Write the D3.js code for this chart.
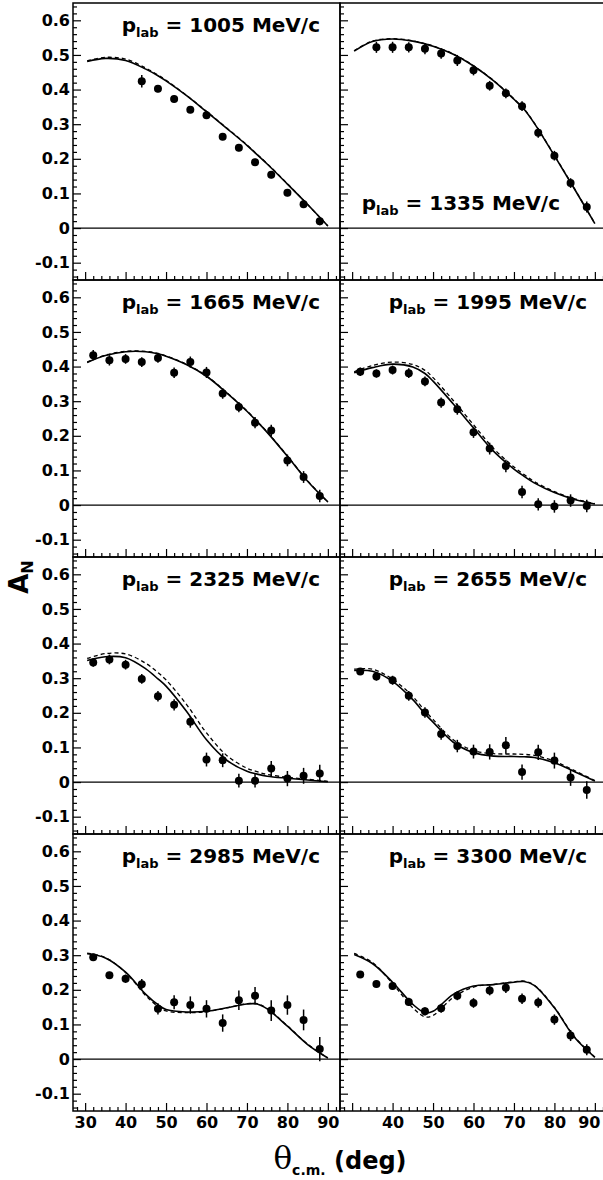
<!DOCTYPE html>
<html>
<head>
<meta charset="utf-8">
<script src="https://cdn.jsdelivr.net/npm/d3@7"></script>
<style>
  body { margin: 0; background: #fff; }
  svg { display: block; }
  text { white-space: pre; }
</style>
</head>
<body>
<div id="chart"></div>
<script>
// beam momenta, one panel each
const momenta = [1005, 1335, 1665, 1995, 2325, 2655, 2985, 3300];

// measured angles (deg, c.m.)
const angles = [32, 36, 40, 44, 48, 52, 56, 60, 64, 68, 72, 76, 80, 84, 88];
const fitAngles = [30.5, 35, 40, 45, 48, 50, 55, 60, 65, 70, 72.5, 75, 80, 85, 90];

const xTicks = [30, 40, 50, 60, 70, 80, 90];
const yTicks = [-0.1, 0, 0.1, 0.2, 0.3, 0.4, 0.5, 0.6];

// A_N data, null = no point
const an1005 = [null, null, null, 0.424, 0.402, 0.373, 0.342, 0.326, 0.264, 0.232, 0.190, 0.154, 0.102, 0.069, 0.020];
const er1005 = [null, null, null, 0.018, 0.010, 0.010, 0.010, 0.010, 0.010, 0.010, 0.010, 0.010, 0.010, 0.010, 0.012];
const an1335 = [null, 0.522, 0.522, 0.522, 0.518, 0.504, 0.484, 0.456, 0.411, 0.389, 0.352, 0.275, 0.209, 0.130, 0.061];
const er1335 = [null, 0.016, 0.016, 0.015, 0.016, 0.015, 0.016, 0.015, 0.014, 0.014, 0.014, 0.014, 0.014, 0.014, 0.016];
const an1665 = [0.433, 0.418, 0.422, 0.413, 0.425, 0.382, 0.413, 0.383, 0.322, 0.283, 0.238, 0.215, 0.129, 0.081, 0.026];
const er1665 = [0.015, 0.015, 0.014, 0.014, 0.014, 0.015, 0.016, 0.016, 0.015, 0.015, 0.016, 0.017, 0.017, 0.017, 0.018];
const an1995 = [0.385, 0.380, 0.390, 0.381, 0.357, 0.296, 0.277, 0.210, 0.163, 0.113, 0.038, 0.002, -0.004, 0.013, -0.003];
const er1995 = [0.012, 0.012, 0.013, 0.014, 0.014, 0.015, 0.016, 0.016, 0.017, 0.018, 0.018, 0.018, 0.018, 0.018, 0.018];
const an2325 = [0.345, 0.354, 0.339, 0.298, 0.248, 0.223, 0.174, 0.065, 0.063, 0.004, 0.004, 0.039, 0.010, 0.018, 0.025];
const er2325 = [0.012, 0.014, 0.014, 0.014, 0.015, 0.016, 0.017, 0.020, 0.020, 0.020, 0.020, 0.022, 0.022, 0.023, 0.025];
const an2655 = [0.319, 0.305, 0.294, 0.249, 0.201, 0.139, 0.104, 0.088, 0.087, 0.106, 0.029, 0.086, 0.062, 0.013, -0.023];
const er2655 = [0.010, 0.012, 0.013, 0.014, 0.015, 0.017, 0.018, 0.020, 0.022, 0.024, 0.022, 0.022, 0.023, 0.024, 0.025];
const an2985 = [0.294, 0.242, 0.232, 0.216, 0.145, 0.164, 0.156, 0.145, 0.104, 0.170, 0.183, 0.140, 0.156, 0.113, 0.029];
const er2985 = [0.010, 0.010, 0.012, 0.015, 0.016, 0.020, 0.025, 0.025, 0.025, 0.028, 0.025, 0.030, 0.028, 0.030, 0.035];
const an3300 = [0.244, 0.217, 0.211, 0.165, 0.138, 0.147, 0.183, 0.162, 0.198, 0.206, 0.174, 0.163, 0.114, 0.068, 0.027];
const er3300 = [0.010, 0.010, 0.011, 0.012, 0.012, 0.013, 0.013, 0.014, 0.014, 0.015, 0.015, 0.015, 0.015, 0.016, 0.016];

// model curves: solid and dashed
const fit1005  = [0.481, 0.490, 0.484, 0.459, 0.440, 0.425, 0.383, 0.336, 0.288, 0.239, 0.212, 0.185, 0.127, 0.068, 0.006];
const dash1005 = [0.483, 0.493, 0.488, 0.462, 0.442, 0.427, 0.384, 0.337, 0.289, 0.240, 0.213, 0.186, 0.128, 0.068, 0.006];
const fit1335  = [0.511, 0.539, 0.546, 0.540, 0.532, 0.525, 0.502, 0.468, 0.425, 0.372, 0.343, 0.303, 0.209, 0.112, 0.013];
const dash1335 = [0.512, 0.540, 0.547, 0.541, 0.533, 0.526, 0.503, 0.469, 0.426, 0.373, 0.344, 0.304, 0.210, 0.113, 0.013];
const fit1665  = [0.412, 0.432, 0.443, 0.443, 0.437, 0.430, 0.406, 0.372, 0.324, 0.271, 0.241, 0.210, 0.141, 0.069, 0.009];
const dash1665 = [0.413, 0.433, 0.444, 0.444, 0.438, 0.431, 0.407, 0.373, 0.325, 0.272, 0.242, 0.211, 0.142, 0.070, 0.009];
const fit1995  = [0.382, 0.397, 0.407, 0.399, 0.380, 0.358, 0.292, 0.223, 0.155, 0.104, 0.083, 0.064, 0.036, 0.016, 0.003];
const dash1995 = [0.385, 0.403, 0.413, 0.406, 0.389, 0.368, 0.302, 0.232, 0.163, 0.110, 0.088, 0.068, 0.039, 0.018, 0.004];
const fit2325  = [0.351, 0.362, 0.359, 0.327, 0.298, 0.277, 0.205, 0.122, 0.063, 0.031, 0.023, 0.017, 0.011, 0.006, 0.001];
const dash2325 = [0.357, 0.371, 0.370, 0.343, 0.316, 0.295, 0.225, 0.142, 0.077, 0.040, 0.030, 0.022, 0.014, 0.008, 0.002];
const fit2655  = [0.322, 0.320, 0.291, 0.238, 0.197, 0.173, 0.115, 0.085, 0.075, 0.074, 0.073, 0.071, 0.056, 0.030, 0.003];
const dash2655 = [0.326, 0.326, 0.297, 0.247, 0.206, 0.181, 0.122, 0.091, 0.082, 0.081, 0.080, 0.077, 0.060, 0.033, 0.004];
const fit2985  = [0.304, 0.292, 0.251, 0.187, 0.157, 0.143, 0.136, 0.138, 0.148, 0.159, 0.159, 0.145, 0.095, 0.042, 0.003];
const dash2985 = [0.306, 0.293, 0.250, 0.183, 0.152, 0.139, 0.134, 0.137, 0.148, 0.160, 0.160, 0.146, 0.096, 0.043, 0.003];
const fit3300  = [0.302, 0.276, 0.222, 0.158, 0.134, 0.138, 0.187, 0.211, 0.215, 0.222, 0.224, 0.213, 0.148, 0.062, 0.005];
const dash3300 = [0.305, 0.279, 0.218, 0.148, 0.122, 0.126, 0.178, 0.208, 0.216, 0.223, 0.225, 0.214, 0.149, 0.064, 0.006];

const anList   = [an1005, an1335, an1665, an1995, an2325, an2655, an2985, an3300];
const erList   = [er1005, er1335, er1665, er1995, er2325, er2655, er2985, er3300];
const fitList  = [fit1005, fit1335, fit1665, fit1995, fit2325, fit2655, fit2985, fit3300];
const dashList = [dash1005, dash1335, dash1665, dash1995, dash2325, dash2655, dash2985, dash3300];

const W = 603, H = 1180;
const margin = { left: 73, top: 3 };
const pw = 267, ph = 277;
const font = "'DejaVu Sans', 'Liberation Sans', Arial, sans-serif";

const svg = d3.select("#chart").append("svg")
  .attr("width", W)
  .attr("height", H);

const x = d3.scaleLinear().domain([27, 93]).range([0, pw]);
const y = d3.scaleLinear().domain([-0.15, 0.65]).range([ph, 0]);

const line = d3.line()
  .x(d => x(d[0]))
  .y(d => y(d[1]))
  .curve(d3.curveCatmullRom.alpha(0.5));

const fmtY = d => Math.abs(d) < 1e-9 ? "0" : d.toFixed(1);

momenta.forEach((p, i) => {
  const col = i % 2, row = Math.floor(i / 2);
  const g = svg.append("g")
    .attr("transform", `translate(${margin.left + col * pw},${margin.top + row * ph})`);

  // zero line
  g.append("line")
    .attr("x1", 0).attr("x2", pw)
    .attr("y1", y(0)).attr("y2", y(0))
    .attr("stroke", "#000").attr("stroke-width", 1.3);

  // model curves
  g.append("path")
    .datum(fitAngles.map((a, k) => [a, dashList[i][k]]))
    .attr("fill", "none").attr("stroke", "#000")
    .attr("stroke-width", 1.3).attr("stroke-dasharray", "4,3")
    .attr("d", line);
  g.append("path")
    .datum(fitAngles.map((a, k) => [a, fitList[i][k]]))
    .attr("fill", "none").attr("stroke", "#000")
    .attr("stroke-width", 1.6)
    .attr("d", line);

  // data points
  const pts = angles.map((a, k) => ({ a, v: anList[i][k], e: erList[i][k] }))
    .filter(d => d.v !== null);

  g.selectAll(".err").data(pts).join("line")
    .attr("x1", d => x(d.a)).attr("x2", d => x(d.a))
    .attr("y1", d => y(d.v - d.e)).attr("y2", d => y(d.v + d.e))
    .attr("stroke", "#000").attr("stroke-width", 1.5);

  g.selectAll(".pt").data(pts).join("circle")
    .attr("cx", d => x(d.a)).attr("cy", d => y(d.v))
    .attr("r", 4).attr("fill", "#000");

  // axes, ticks inside
  const bottomRow = row === 3;
  const xMaj = d3.axisBottom(x).tickValues(xTicks).tickSize(-8).tickSizeOuter(0).tickPadding(6)
    .tickFormat(d => !bottomRow ? "" : (col === 1 && d === 30 ? "" : d));
  const xMin = d3.axisBottom(x).tickValues(d3.range(28, 93, 2).filter(v => v % 10 !== 0))
    .tickSize(-4).tickSizeOuter(0).tickFormat("");
  const yMaj = d3.axisLeft(y).tickValues(yTicks).tickSize(-8).tickSizeOuter(0).tickPadding(3)
    .tickFormat(d => col === 0 ? fmtY(d) : "");
  const yMin = d3.axisLeft(y).tickValues(d3.range(-14, 65, 2).filter(v => v % 10 !== 0).map(v => v / 100))
    .tickSize(-4).tickSizeOuter(0).tickFormat("");

  [[xMaj, true], [xMin, true], [yMaj, false], [yMin, false]].forEach(([ax, isX]) => {
    const a = g.append("g")
      .attr("transform", isX ? `translate(0,${ph})` : null)
      .call(ax);
    a.select(".domain").remove();
    a.selectAll(".tick line").attr("stroke-width", 1.2);
    a.attr("font-family", font).attr("font-size", 16).attr("font-weight", "bold");
    a.selectAll("text").attr("fill", "#000");
  });

  // last label of the right panel sits against the page edge
  if (bottomRow && col === 1) {
    g.selectAll(".tick text").filter(d => d === 90).attr("dx", -6);
  }

  // frame
  g.append("rect")
    .attr("width", pw).attr("height", ph)
    .attr("fill", "none").attr("stroke", "#000").attr("stroke-width", 1.5);

  // momentum label
  const atBottom = p === 1335;
  const t = g.append("text")
    .attr("x", atBottom ? 220 : 247)
    .attr("y", atBottom ? 207 : 28.5)
    .attr("text-anchor", "end")
    .attr("font-family", font).attr("font-weight", "bold").attr("font-size", 20);
  t.append("tspan").text("p");
  t.append("tspan").attr("font-size", 13).attr("dy", 5).text("lab");
  t.append("tspan").attr("dy", -5).text(` = ${p} MeV/c`);
});

// axis titles
const xt = svg.append("text")
  .attr("x", margin.left + pw)
  .attr("y", 1169)
  .attr("text-anchor", "middle")
  .attr("font-family", font).attr("font-weight", "bold").attr("font-size", 24);
xt.append("tspan").attr("font-family", "'DejaVu Serif', 'Liberation Serif', serif")
  .attr("font-weight", "normal").attr("font-size", 31).text("θ");
xt.append("tspan").attr("font-size", 14).attr("dy", 6).text("c.m.");
xt.append("tspan").attr("dy", -6).text(" (deg)");

const yt = svg.append("text")
  .attr("transform", `translate(28,577) rotate(-90)`)
  .attr("text-anchor", "middle")
  .attr("font-family", font).attr("font-weight", "bold").attr("font-size", 26);
yt.append("tspan").text("A");
yt.append("tspan").attr("font-size", 16).attr("dy", 5).text("N");
</script>
</body>
</html>
